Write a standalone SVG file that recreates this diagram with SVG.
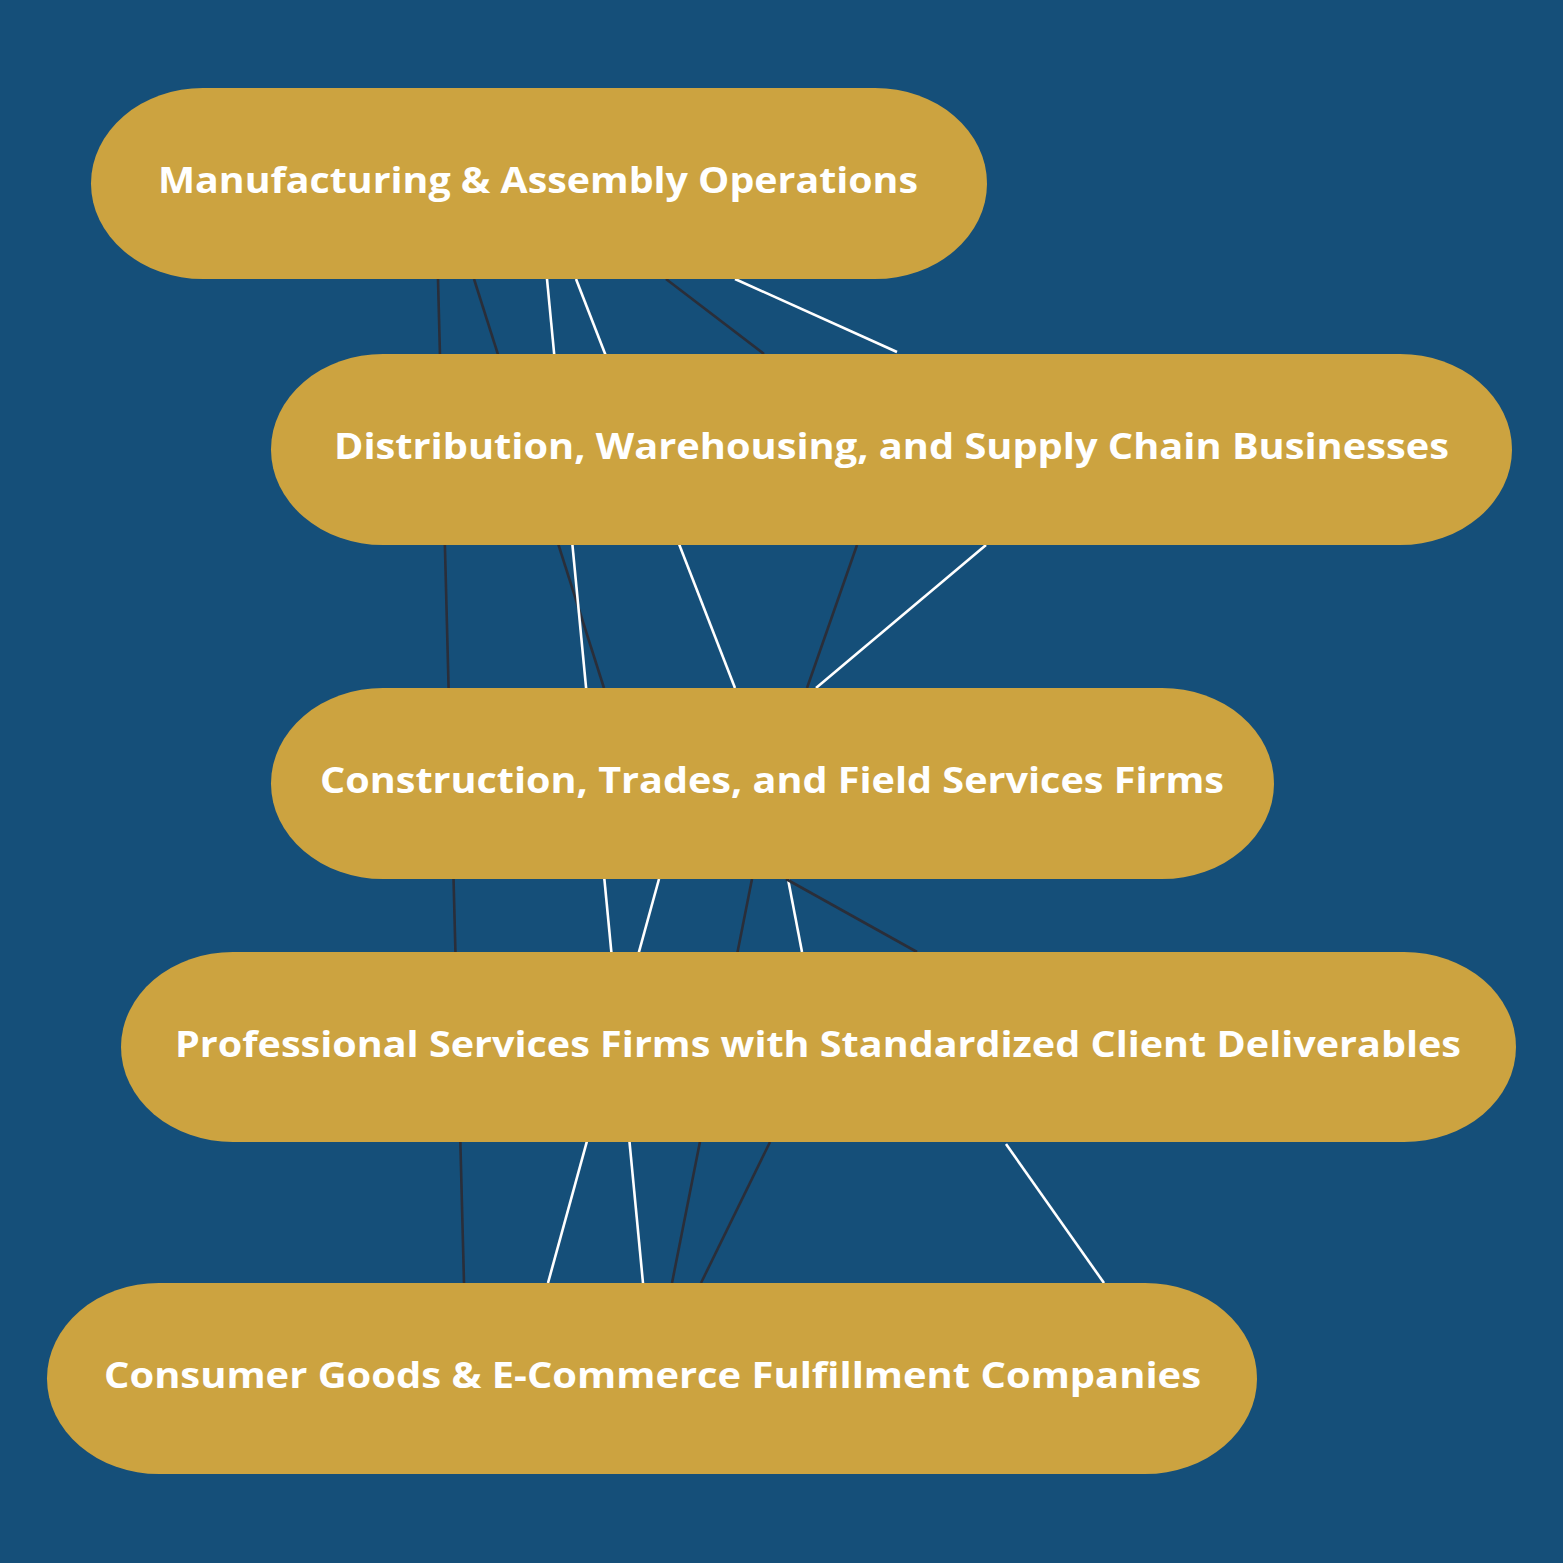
<svg xmlns="http://www.w3.org/2000/svg" width="1563" height="1563" viewBox="0 0 1563 1563">
<style>
.bg{fill:#154F79}
.node{fill:#CCA340}
.lbl{fill:#FFFFFF;font-family:"Open Sans","Liberation Sans",sans-serif;font-weight:700;font-size:35px}
.dk{stroke:#2A2E39;stroke-width:2.6;fill:none}
.wt{stroke:#FFFFFF;stroke-width:2.6;fill:none}
</style>
<rect class="bg" x="0" y="0" width="1563" height="1563"/>
<g id="connectors">
<line class="dk" x1="438" y1="279" x2="464" y2="1283"/>
<line class="dk" x1="474" y1="279" x2="604" y2="688"/>
<line class="wt" x1="547" y1="279" x2="643" y2="1283"/>
<line class="wt" x1="576" y1="279" x2="735" y2="688"/>
<line class="dk" x1="666" y1="279" x2="764" y2="354"/>
<line class="wt" x1="735" y1="279" x2="897" y2="352"/>
<line class="dk" x1="857" y1="545" x2="807" y2="688"/>
<line class="wt" x1="986" y1="545" x2="816" y2="688"/>
<line class="wt" x1="659" y1="879" x2="548" y2="1283"/>
<line class="dk" x1="752" y1="879" x2="672" y2="1283"/>
<line class="wt" x1="788" y1="879" x2="802" y2="952"/>
<line class="dk" x1="786" y1="879" x2="917" y2="952"/>
<line class="dk" x1="770" y1="1142" x2="701" y2="1283"/>
<line class="wt" x1="1006" y1="1144" x2="1104" y2="1283"/>
</g>
<g id="n1">
<rect class="node" x="91" y="88" width="896" height="191" rx="112" ry="95.5"/>
<text class="lbl" x="158" y="193" textLength="760" lengthAdjust="spacingAndGlyphs">Manufacturing &amp; Assembly Operations</text>
</g>
<g id="n2">
<rect class="node" x="271" y="354" width="1241" height="191" rx="112" ry="95.5"/>
<text class="lbl" x="334" y="459" textLength="1115" lengthAdjust="spacingAndGlyphs">Distribution, Warehousing, and Supply Chain Businesses</text>
</g>
<g id="n3">
<rect class="node" x="271" y="688" width="1003" height="191" rx="112" ry="95.5"/>
<text class="lbl" x="320" y="793" textLength="904" lengthAdjust="spacingAndGlyphs">Construction, Trades, and Field Services Firms</text>
</g>
<g id="n4">
<rect class="node" x="121" y="952" width="1395" height="190" rx="112" ry="95"/>
<text class="lbl" x="175" y="1057" textLength="1286" lengthAdjust="spacingAndGlyphs">Professional Services Firms with Standardized Client Deliverables</text>
</g>
<g id="n5">
<rect class="node" x="47" y="1283" width="1210" height="191" rx="112" ry="95.5"/>
<text class="lbl" x="104" y="1388" textLength="1097" lengthAdjust="spacingAndGlyphs">Consumer Goods &amp; E-Commerce Fulfillment Companies</text>
</g>
</svg>
